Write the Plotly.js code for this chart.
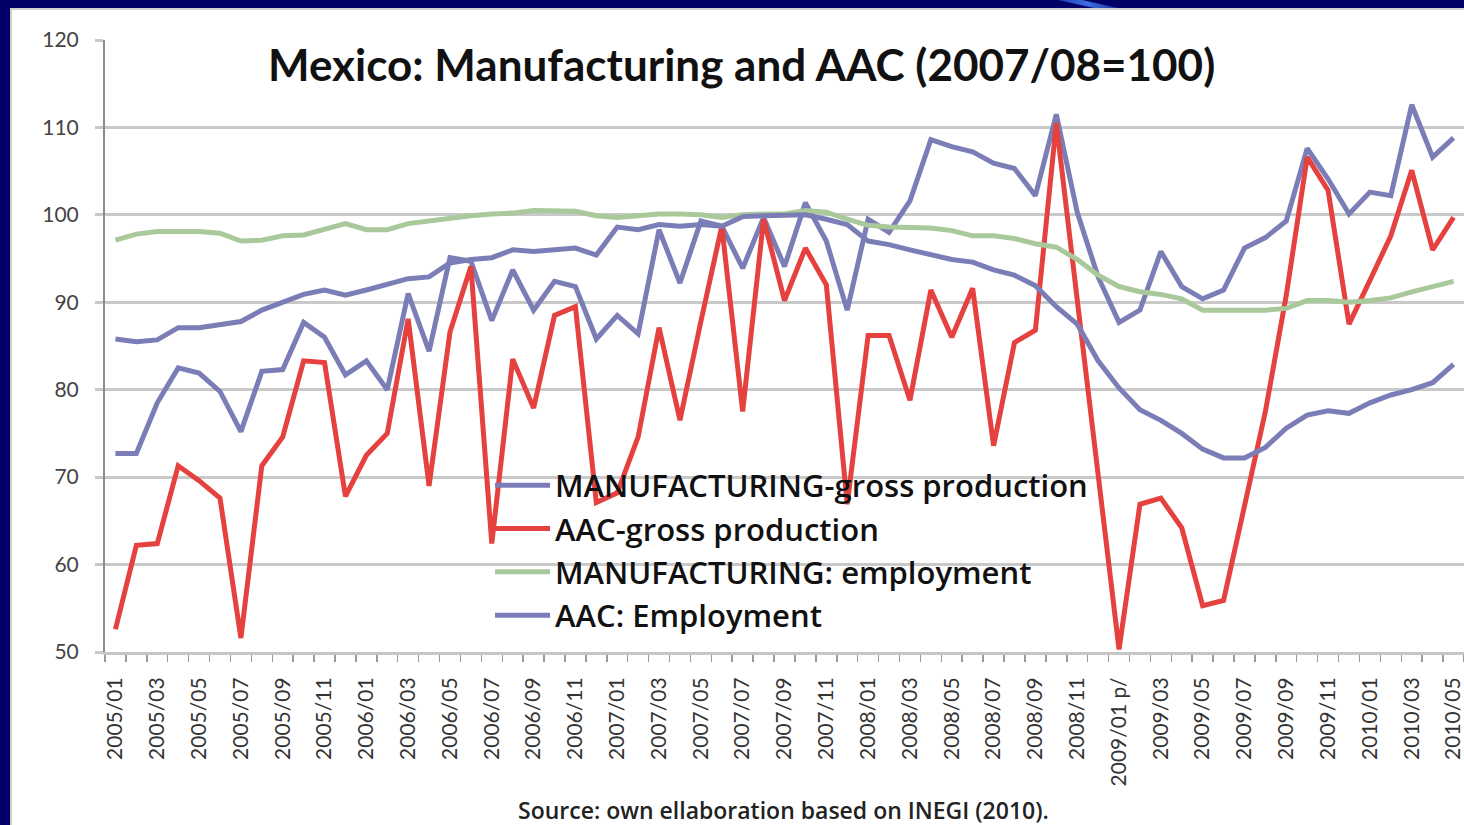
<!DOCTYPE html>
<html>
<head>
<meta charset="utf-8">
<script src="https://cdn.plot.ly/plotly-3.0.1.min.js"></script>
<style>
  html, body { margin: 0; padding: 0; width: 1464px; height: 825px; overflow: hidden; background: #000066; }
  #frame { position: absolute; left: 10px; top: 8px; width: 1454px; height: 817px; background: #ffffff;
           border-left: 2px solid #cfcfcf; border-top: 2px solid #cfcfcf; box-sizing: border-box; }
  #streak { position: absolute; left: 1058px; top: 0; width: 60px; height: 8px;
            background: linear-gradient(90deg, #1f3fb0, #3b6ee0 50%, #1c2f9a);
            clip-path: polygon(0 0, 40% 0, 100% 100%, 60% 100%); }
  #chart { position: absolute; left: 12px; top: 10px; width: 1452px; height: 815px; }
</style>
</head>
<body>
<div id="frame"></div>
<div id="streak"></div>
<div id="chart"></div>
<script>
// Monthly periods, January 2005 to May 2010 (2009 figures preliminary)
const months = [
  "2005/01","2005/02","2005/03","2005/04","2005/05","2005/06","2005/07","2005/08","2005/09","2005/10","2005/11","2005/12",
  "2006/01","2006/02","2006/03","2006/04","2006/05","2006/06","2006/07","2006/08","2006/09","2006/10","2006/11","2006/12",
  "2007/01","2007/02","2007/03","2007/04","2007/05","2007/06","2007/07","2007/08","2007/09","2007/10","2007/11","2007/12",
  "2008/01","2008/02","2008/03","2008/04","2008/05","2008/06","2008/07","2008/08","2008/09","2008/10","2008/11","2008/12",
  "2009/01 p/","2009/02","2009/03","2009/04","2009/05","2009/06","2009/07","2009/08","2009/09","2009/10","2009/11","2009/12",
  "2010/01","2010/02","2010/03","2010/04","2010/05"
];

// Index values, 2007/08 = 100
const manufProduction = [
  72.7, 72.7, 78.5, 82.5, 81.9, 79.8, 75.2, 82.1, 82.3, 87.7, 86.0, 81.7, 83.3, 80.0, 91.0, 84.4,
  95.1, 94.7, 87.9, 93.7, 89.1, 92.4, 91.8, 85.8, 88.5, 86.4, 98.3, 92.2, 99.3, 98.7, 93.9, 99.7,
  94.1, 101.4, 97.0, 89.1, 99.5, 98.0, 101.6, 108.6, 107.8, 107.2, 105.9, 105.3, 102.2, 111.5, 100.3, 92.9,
  87.7, 89.1, 95.8, 91.8, 90.4, 91.4, 96.2, 97.4, 99.3, 107.6, 104.1, 100.1, 102.6, 102.2, 112.6, 106.6, 108.8
];
const aacProduction = [
  52.6, 62.2, 62.4, 71.3, 69.6, 67.6, 51.6, 71.3, 74.6, 83.3, 83.1, 67.8, 72.5, 75.0, 88.1, 69.0,
  86.6, 94.1, 62.4, 83.5, 77.9, 88.5, 89.5, 67.1, 68.2, 74.6, 87.1, 76.5, 87.8, 98.7, 77.5, 99.5,
  90.2, 96.2, 92.0, 66.9, 86.2, 86.2, 78.8, 91.4, 86.0, 91.6, 73.6, 85.4, 86.8, 110.5, 90.3, 70.2,
  50.3, 66.9, 67.6, 64.2, 55.3, 55.9, 66.7, 77.5, 90.8, 106.6, 102.8, 87.5, 92.5, 97.6, 105.1, 96.0, 99.7
];
const manufEmployment = [
  97.1, 97.8, 98.1, 98.1, 98.1, 97.9, 97.0, 97.1, 97.6, 97.7, 98.3, 99.0, 98.3, 98.3, 99.0, 99.3,
  99.7, 99.9, 100.1, 100.2, 100.5, 100.5, 100.4, 99.9, 99.7, 99.9, 100.1, 100.1, 100.0, 99.7, 100.0, 100.1,
  100.1, 100.5, 100.3, 99.5, 98.8, 98.6, 98.6, 98.5, 98.2, 97.6, 97.6, 97.3, 96.7, 96.3, 94.9, 93.1,
  91.8, 91.2, 90.9, 90.4, 89.1, 89.1, 89.1, 89.1, 89.3, 90.2, 90.2, 90.0, 90.2, 90.5, 91.2, 91.8, 92.4
];
const aacEmployment = [
  85.8, 85.5, 85.7, 87.1, 87.1, 87.5, 87.8, 89.1, 90.0, 90.9, 91.4, 90.8, 91.4, 92.0, 92.7, 92.9,
  94.5, 94.9, 95.1, 96.0, 95.8, 96.0, 96.2, 95.4, 98.6, 98.3, 98.9, 98.7, 98.9, 98.7, 99.8, 99.9,
  99.9, 100.0, 99.5, 98.9, 97.0, 96.6, 96.0, 95.4, 94.9, 94.6, 93.7, 93.1, 91.9, 89.5, 87.5, 83.3,
  80.2, 77.7, 76.5, 75.0, 73.2, 72.2, 72.2, 73.4, 75.6, 77.1, 77.6, 77.3, 78.5, 79.4, 80.0, 80.8, 82.9
];

const seriesNames = [
  "MANUFACTURING-gross production",
  "AAC-gross production",
  "MANUFACTURING: employment",
  "AAC: Employment"
];
const seriesColors = ["#7b7db6", "#e5413f", "#a9c99b", "#7b7db6"];
const seriesValues = [manufProduction, aacProduction, manufEmployment, aacEmployment];

// every other month is labelled on the category axis
const tickLabels = months.map((m, i) => (i % 2 === 0 ? m : ""));

const traces = seriesValues.map((vals, k) => ({
  type: "scatter",
  mode: "lines",
  x: months,
  y: vals,
  name: seriesNames[k],
  legendgroup: "g" + k,
  line: { color: seriesColors[k], width: 5 },
  hoverinfo: "skip"
}));

const baseFont = "Lato, 'Open Sans', sans-serif";
const wideFont = "'Open Sans', Lato, sans-serif";

const layout = {
  width: 1452,
  height: 815,
  margin: { l: 93, r: 0, t: 30, b: 173 },
  paper_bgcolor: "rgba(0,0,0,0)",
  plot_bgcolor: "#ffffff",
  font: { family: baseFont, color: "#333333" },
  showlegend: true,
  legend: {
    x: 0.2833, y: 0.316, xanchor: "left", yanchor: "top",
    bgcolor: "rgba(0,0,0,0)",
    borderwidth: 0,
    traceorder: "grouped",
    tracegroupgap: 0,
    itemwidth: 55,
    font: { family: wideFont, size: 31, color: "#111111", weight: 600 }
  },
  xaxis: {
    type: "category",
    categoryorder: "array",
    categoryarray: months,
    range: [-0.5, months.length - 0.5],
    tickmode: "array",
    tickvals: months,
    ticktext: tickLabels,
    tickangle: -90,
    tickson: "boundaries",
    ticks: "outside",
    ticklen: 7,
    tickwidth: 1.5,
    tickcolor: "#9a9a9a",
    ticklabelstandoff: 14,
    tickfont: { family: baseFont, size: 21, color: "#333333" },
    showline: true,
    linecolor: "#c6c6c6",
    linewidth: 3,
    showgrid: false,
    zeroline: false,
    fixedrange: true
  },
  yaxis: {
    range: [50, 120],
    tick0: 50,
    dtick: 10,
    ticks: "outside",
    ticklen: 8,
    tickwidth: 3,
    tickcolor: "#c9c9c9",
    ticklabelstandoff: 12,
    tickfont: { family: baseFont, size: 21, color: "#444444" },
    showgrid: true,
    gridcolor: "#c9c9c9",
    gridwidth: 3,
    showline: true,
    linecolor: "#8c8c8c",
    linewidth: 2,
    zeroline: false,
    fixedrange: true
  },
  shapes: [
    // white backing behind the legend block hides the gridlines there
    {
      type: "rect", xref: "paper", yref: "paper",
      x0: 0.2443, x1: 0.7815, y0: 0.02, y1: 0.32,
      fillcolor: "#ffffff", line: { width: 0 }, layer: "between"
    }
  ],
  annotations: [
    {
      text: "Mexico: Manufacturing and AAC (2007/08=100)",
      xref: "paper", yref: "paper", x: 0.468, y: 0.961,
      xanchor: "center", yanchor: "middle", showarrow: false,
      font: { family: baseFont, size: 44, color: "#111111", weight: 700 }
    },
    {
      text: "Source: own ellaboration based on INEGI (2010).",
      xref: "paper", yref: "paper", x: 0.499, y: -0.258,
      xanchor: "center", yanchor: "middle", showarrow: false,
      font: { family: wideFont, size: 23, color: "#222222", weight: 600 }
    }
  ]
};

Plotly.newPlot("chart", traces, layout, { staticPlot: true, displayModeBar: false });
</script>
</body>
</html>
